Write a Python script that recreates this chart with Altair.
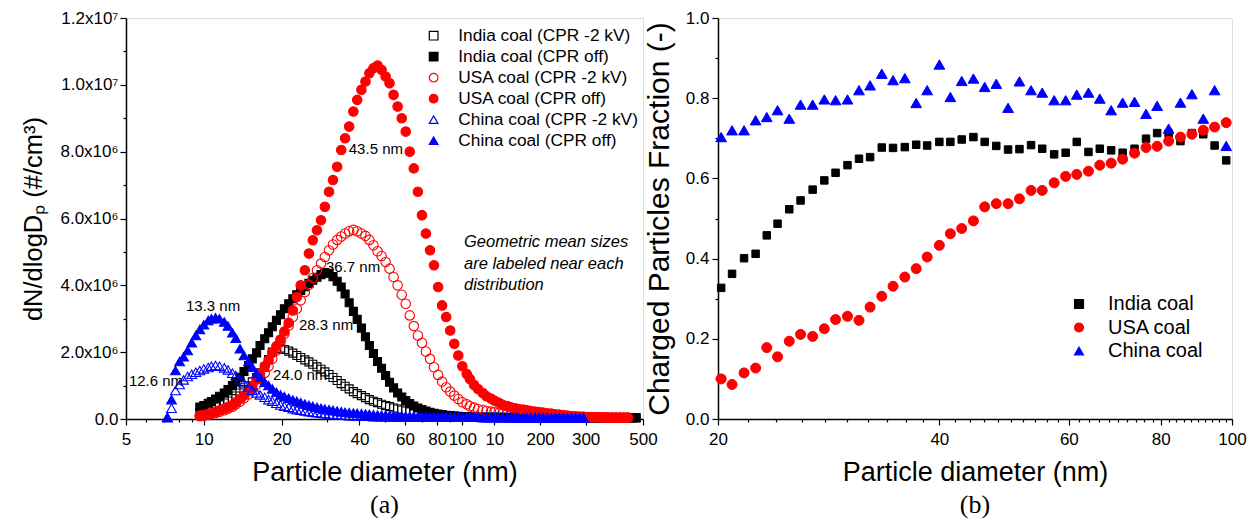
import json
import altair as alt
import pandas as pd

FONT = "Liberation Sans"

# ---------------- panel (a): size distributions ----------------
DP_IU = [9.65, 10.0, 10.4, 10.7, 11.1, 11.5, 12.0, 12.4, 12.9, 13.3,
         13.8, 14.3, 14.9, 15.4, 16.0, 16.5, 17.2, 17.8, 18.4, 19.1,
         19.8, 20.5, 21.3, 22.1, 22.9, 23.7, 24.6, 25.5, 26.4, 27.4,
         28.4, 29.4, 30.5, 31.6, 32.8, 34.0, 35.2, 36.5, 37.9, 39.2,
         40.7, 42.2, 43.7, 45.3, 47.0, 48.7, 50.5, 52.3, 54.2, 56.2,
         58.3, 60.4, 62.6, 64.9, 67.3, 69.8, 72.3, 75.0, 77.7, 80.6,
         83.5, 86.6, 89.8, 93.1, 96.5, 100, 104, 107, 111, 115,
         120, 124, 129, 133, 138, 143, 149, 154, 160, 165,
         172, 178, 184, 191, 198, 205, 213, 221, 229, 237,
         246, 255, 264, 274, 284, 294, 305, 316, 328, 340,
         352, 365, 379, 392, 407, 422, 437, 453, 470]

# values in units of 1e6 #/cm3
INDIA_2KV = [0.20, 0.24, 0.28, 0.32, 0.37, 0.42, 0.48, 0.54, 0.61, 0.69,
             0.78, 0.88, 0.99, 1.11, 1.24, 1.38, 1.55, 1.78, 2.00, 2.10,
             2.12, 2.08, 2.03, 1.97, 1.90, 1.84, 1.77, 1.71, 1.64, 1.56,
             1.49, 1.41, 1.33, 1.24, 1.15, 1.06, 0.98, 0.90, 0.82, 0.76,
             0.70, 0.64, 0.58, 0.53, 0.49, 0.44, 0.40, 0.37, 0.33, 0.30,
             0.27, 0.24, 0.22, 0.20, 0.18, 0.16, 0.15, 0.13, 0.12, 0.11,
             0.10, 0.09, 0.08, 0.08, 0.07, 0.06, 0.06, 0.05, 0.05, 0.05,
             0.05, 0.05, 0.05, 0.05, 0.05, 0.04, 0.04, 0.04, 0.04, 0.04,
             0.04, 0.04, 0.04, 0.04, 0.04, 0.04, 0.04, 0.04, 0.04, 0.04,
             0.04, 0.04, 0.04, 0.04, 0.04, 0.03, 0.03, 0.03, 0.03, 0.03,
             0.03, 0.03, 0.03, 0.03, 0.03, 0.03, 0.03, 0.03, 0.03]
INDIA_OFF = [0.36, 0.40, 0.47, 0.52, 0.60, 0.68, 0.78, 0.88, 1.00, 1.10,
             1.25, 1.42, 1.60, 1.80, 1.98, 2.20, 2.40, 2.58, 2.76, 2.95,
             3.12, 3.30, 3.45, 3.60, 3.72, 3.85, 3.96, 4.06, 4.15, 4.24,
             4.32, 4.38, 4.36, 4.26, 4.12, 3.95, 3.74, 3.48, 3.22, 2.98,
             2.72, 2.46, 2.20, 1.96, 1.72, 1.52, 1.30, 1.10, 0.93, 0.78,
             0.66, 0.55, 0.46, 0.39, 0.33, 0.28, 0.24, 0.20, 0.17, 0.15,
             0.13, 0.11, 0.10, 0.09, 0.08, 0.07, 0.07, 0.06, 0.06, 0.06,
             0.05, 0.05, 0.05, 0.05, 0.05, 0.05, 0.05, 0.04, 0.04, 0.04,
             0.04, 0.04, 0.04, 0.04, 0.04, 0.04, 0.04, 0.04, 0.04, 0.04,
             0.04, 0.04, 0.04, 0.04, 0.04, 0.04, 0.04, 0.04, 0.04, 0.04,
             0.04, 0.04, 0.04, 0.04, 0.04, 0.04, 0.04, 0.04, 0.04]
USA_2KV = [0.08, 0.10, 0.12, 0.15, 0.18, 0.22, 0.26, 0.31, 0.37, 0.44,
           0.52, 0.62, 0.74, 0.88, 1.03, 1.20, 1.38, 1.58, 1.80, 2.05,
           2.30, 2.55, 2.80, 3.05, 3.30, 3.55, 3.80, 4.02, 4.22, 4.45,
           4.65, 4.85, 5.05, 5.22, 5.36, 5.46, 5.55, 5.62, 5.66, 5.62,
           5.55, 5.48, 5.36, 5.20, 5.02, 4.88, 4.70, 4.50, 4.25, 4.00,
           3.72, 3.45, 3.10, 2.78, 2.50, 2.28, 2.02, 1.80, 1.55, 1.32,
           1.12, 0.95, 0.82, 0.70, 0.60, 0.50, 0.44, 0.38, 0.34, 0.30,
           0.27, 0.24, 0.22, 0.20, 0.18, 0.16, 0.15, 0.13, 0.12, 0.11,
           0.10, 0.09, 0.09, 0.08, 0.08, 0.07, 0.07, 0.06, 0.06, 0.06,
           0.05, 0.05, 0.05, 0.05, 0.05, 0.05, 0.05, 0.05, 0.05, 0.05,
           0.04, 0.04, 0.04, 0.04, 0.04, 0.04, 0.04]
USA_OFF = [0.10, 0.12, 0.15, 0.18, 0.21, 0.26, 0.31, 0.36, 0.42, 0.50,
           0.60, 0.70, 0.83, 0.98, 1.18, 1.36, 1.58, 1.76, 1.98, 2.18,
           2.38, 2.62, 2.88, 3.25, 3.65, 4.00, 4.45, 4.95, 5.35, 5.65,
           5.95, 6.35, 6.80, 7.15, 7.55, 8.05, 8.40, 8.75, 9.20, 9.55,
           9.85, 10.10, 10.35, 10.50, 10.58, 10.45, 10.25, 10.05, 9.70, 9.35,
           9.00, 8.60, 8.00, 7.50, 6.80, 6.10, 5.55, 5.05, 4.60, 3.95,
           3.40, 3.05, 2.65, 2.25, 1.90, 1.58, 1.35, 1.20, 1.02, 0.90,
           0.78, 0.68, 0.61, 0.55, 0.49, 0.43, 0.39, 0.35, 0.32, 0.30,
           0.28, 0.26, 0.24, 0.22, 0.21, 0.19, 0.17, 0.16, 0.14, 0.13,
           0.12, 0.10, 0.09, 0.08, 0.07, 0.07, 0.06, 0.06, 0.05, 0.05,
           0.05, 0.05, 0.04, 0.04, 0.04, 0.04, 0.04]

DP_CN = [7.23, 7.50, 7.77, 8.06, 8.35, 8.66, 8.98, 9.31,
         9.65, 10.0, 10.4, 10.7, 11.1, 11.5, 12.0, 12.4, 12.9, 13.3,
         13.8, 14.3, 14.9, 15.4, 16.0, 16.5, 17.2, 17.8, 18.4, 19.1,
         19.8, 20.5, 21.3, 22.1, 22.9, 23.7, 24.6, 25.5, 26.4, 27.4,
         28.4, 29.4, 30.5, 31.6, 32.8, 34.0, 35.2, 36.5, 37.9, 39.2,
         40.7, 42.2, 43.7, 45.3, 47.0, 48.7, 50.5, 52.3, 54.2, 56.2,
         58.3, 60.4, 62.6, 64.9, 67.3, 69.8, 72.3, 75.0, 77.7, 80.6,
         83.5, 86.6, 89.8, 93.1, 96.5, 100, 104, 107, 111, 115,
         120, 124, 129, 133, 138, 143, 149, 154, 160, 165,
         172, 178, 184, 191, 198, 205, 213, 221, 229, 237,
         246, 255, 264, 274, 284, 294]
CHINA_2KV = [0.04, 0.32, 0.85, 1.03, 1.17, 1.27, 1.34, 1.40,
             1.45, 1.50, 1.54, 1.58, 1.60, 1.58, 1.53, 1.47, 1.37, 1.30,
             1.18, 1.08, 0.96, 0.86, 0.78, 0.72, 0.65, 0.58, 0.53, 0.47,
             0.42, 0.38, 0.35, 0.31, 0.28, 0.26, 0.24, 0.22, 0.20, 0.19,
             0.17, 0.16, 0.15, 0.14, 0.13, 0.12, 0.11, 0.10, 0.10, 0.09,
             0.09, 0.08, 0.08, 0.07, 0.07, 0.07, 0.06, 0.06, 0.06, 0.06,
             0.05, 0.05, 0.05, 0.05, 0.05, 0.05, 0.05, 0.05, 0.05, 0.05,
             0.05, 0.05, 0.05, 0.05, 0.05, 0.05, 0.05, 0.05, 0.05, 0.05,
             0.04, 0.04, 0.04, 0.04, 0.04, 0.04, 0.04, 0.04, 0.04, 0.04,
             0.04, 0.04, 0.04, 0.04, 0.04, 0.04, 0.03, 0.03, 0.03, 0.03,
             0.03, 0.03, 0.03, 0.03, 0.03, 0.03]
CHINA_OFF = [0.05, 0.58, 1.45, 1.72, 1.86, 2.05, 2.28, 2.50,
             2.68, 2.82, 2.95, 3.00, 3.03, 3.00, 2.90, 2.78, 2.58, 2.42,
             2.10, 1.90, 1.72, 1.55, 1.36, 1.25, 1.10, 1.00, 0.90, 0.80,
             0.72, 0.67, 0.62, 0.57, 0.53, 0.49, 0.45, 0.41, 0.38, 0.35,
             0.32, 0.30, 0.28, 0.26, 0.24, 0.22, 0.20, 0.19, 0.18, 0.17,
             0.16, 0.15, 0.14, 0.13, 0.12, 0.11, 0.11, 0.10, 0.10, 0.09,
             0.09, 0.08, 0.08, 0.08, 0.07, 0.07, 0.07, 0.06, 0.06, 0.06,
             0.06, 0.06, 0.05, 0.05, 0.05, 0.05, 0.05, 0.05, 0.05, 0.05,
             0.05, 0.05, 0.05, 0.05, 0.05, 0.05, 0.05, 0.05, 0.05, 0.05,
             0.04, 0.04, 0.04, 0.04, 0.04, 0.04, 0.04, 0.04, 0.04, 0.04,
             0.04, 0.04, 0.04, 0.04, 0.04, 0.04]
N_UNIT = 1e6

SERIES_A = ["India coal (CPR -2 kV)", "India coal (CPR off)",
            "USA coal (CPR -2 kV)", "USA coal (CPR off)",
            "China coal (CPR -2 kV)", "China coal (CPR off)"]

GMD_TEXT = ["43.5 nm", "36.7 nm", "28.3 nm", "24.0 nm", "13.3 nm", "12.6 nm"]
GMD_X = [46.3, 37.8, 29.7, 23.6, 10.86, 6.53]
GMD_Y = [8.08, 4.55, 2.81, 1.32, 3.38, 1.14]

NOTE_TEXT = ["Geometric mean sizes", "are labeled near each", "distribution"]
NOTE_X = [101.5, 101.5, 101.5]
NOTE_Y = [5.30, 4.64, 4.01]

X_TICKS_A = [5, 10, 20, 40, 60, 80, 100, 133, 200, 300, 500]
X_LABELS_A = ["5", "10", "20", "40", "60", "80", "100", "10", "200", "300", "500"]
X_MINOR_A = [6, 7, 8, 9, 30, 50, 70, 90, 400]
Y_TICKS_A = [0, 2e6, 4e6, 6e6, 8e6, 1e7, 1.2e7]
Y_LABELS_A = ["0.0", "2.0x10⁶", "4.0x10⁶", "6.0x10⁶", "8.0x10⁶", "1.0x10⁷", "1.2x10⁷"]
Y_MINOR_A = [1e6, 3e6, 5e6, 7e6, 9e6, 1.1e7]

# ---------------- panel (b): charged fraction ----------------
DP_B = [20.2, 20.9, 21.7, 22.5, 23.3, 24.1, 25.0, 25.9, 26.9, 27.9,
        28.9, 30.0, 31.1, 32.2, 33.4, 34.6, 35.9, 37.2, 38.5, 40.0,
        41.4, 42.9, 44.5, 46.1, 47.8, 49.6, 51.4, 53.3, 55.2, 57.3,
        59.4, 61.5, 63.8, 66.1, 68.5, 71.0, 73.7, 76.4, 79.1, 82.0,
        85.1, 88.2, 91.4, 94.7, 98.2]
INDIA_FRAC = [0.327, 0.362, 0.401, 0.412, 0.458, 0.487, 0.523, 0.545, 0.572, 0.595,
              0.614, 0.633, 0.649, 0.653, 0.677, 0.676, 0.678, 0.684, 0.682, 0.691,
              0.691, 0.697, 0.703, 0.691, 0.681, 0.672, 0.673, 0.683, 0.674, 0.660,
              0.664, 0.691, 0.666, 0.674, 0.670, 0.664, 0.674, 0.699, 0.713, 0.712,
              0.693, 0.713, 0.710, 0.682, 0.645]
USA_FRAC = [0.100, 0.086, 0.115, 0.127, 0.178, 0.155, 0.194, 0.211, 0.206, 0.225,
            0.248, 0.256, 0.246, 0.279, 0.306, 0.331, 0.354, 0.375, 0.404, 0.433,
            0.462, 0.475, 0.494, 0.529, 0.537, 0.537, 0.549, 0.570, 0.570, 0.589,
            0.605, 0.610, 0.618, 0.633, 0.638, 0.648, 0.663, 0.677, 0.680, 0.693,
            0.703, 0.710, 0.720, 0.728, 0.739]
CHINA_FRAC = [0.703, 0.720, 0.720, 0.745, 0.753, 0.770, 0.749, 0.784, 0.784, 0.797,
              0.795, 0.797, 0.820, 0.832, 0.861, 0.845, 0.850, 0.788, 0.820, 0.884,
              0.803, 0.843, 0.849, 0.828, 0.836, 0.776, 0.842, 0.820, 0.814, 0.795,
              0.795, 0.809, 0.814, 0.799, 0.770, 0.789, 0.791, 0.761, 0.781, 0.724,
              0.789, 0.810, 0.749, 0.820, 0.681]
SERIES_B = ["India coal", "USA coal", "China coal"]

X_TICKS_B = [20, 40, 60, 80, 100]
X_LABELS_B = ["20", "40", "60", "80", "100"]
X_MINOR_B = [22, 24, 26, 28, 30, 32, 34, 36, 38, 42, 44, 46, 48, 50, 52, 54, 56, 58,
             62, 64, 66, 68, 70, 72, 74, 76, 78, 82, 84, 86, 88, 90, 92, 94, 96, 98]
Y_TICKS_B = [0.0, 0.2, 0.4, 0.6, 0.8, 1.0]
Y_LABELS_B = ["0.0", "0.2", "0.4", "0.6", "0.8", "1.0"]
Y_MINOR_B = [0.1, 0.3, 0.5, 0.7, 0.9]

# ---------------- styles ----------------
STYLE_A = {
    "India coal (CPR -2 kV)": ("square", "#000000", "transparent", 64),
    "India coal (CPR off)": ("square", "#000000", "#000000", 64),
    "USA coal (CPR -2 kV)": ("circle", "#ff0000", "transparent", 90),
    "USA coal (CPR off)": ("circle", "#ff0000", "#ff0000", 90),
    "China coal (CPR -2 kV)": ("triangle-up", "#0000ff", "transparent", 95),
    "China coal (CPR off)": ("triangle-up", "#0000ff", "#0000ff", 95),
}
STYLE_B = {
    "India coal": ("square", "#000000", "#000000", 56),
    "USA coal": ("circle", "#ff0000", "#ff0000", 100),
    "China coal": ("triangle-up", "#0000ff", "#0000ff", 115),
}


def label_expr(values, labels):
    expr = "''"
    for v, lab in reversed(list(zip(values, labels))):
        tol = 1e-6 * max(1.0, abs(v))
        expr = f"abs(datum.value - ({v!r})) < {tol!r} ? '{lab}' : ({expr})"
    return expr


def tick_size(minors, major=6, minor=3):
    return {"condition": {"test": f"indexof({json.dumps(minors)}, datum.value) >= 0",
                          "value": minor},
            "value": major}


def axis(title, ticks, labels, minors, title_size, **kw):
    return alt.Axis(title=title, values=list(ticks) + list(minors),
                    labelExpr=label_expr(ticks, labels), tickSize=tick_size(minors),
                    labelOverlap=False, labelFlush=False, grid=False,
                    labelFont=FONT, labelFontSize=17, labelColor="black",
                    titleFont=FONT, titleFontSize=title_size, titleFontWeight="normal",
                    titleColor="black", domainColor="black", domainWidth=1.5,
                    tickColor="black", tickWidth=1.2, **kw)


# ---------------- tables ----------------
rows_a = []
for name, dps, vals in [(SERIES_A[0], DP_IU, INDIA_2KV), (SERIES_A[1], DP_IU, INDIA_OFF),
                        (SERIES_A[2], DP_IU, USA_2KV), (SERIES_A[3], DP_IU, USA_OFF),
                        (SERIES_A[4], DP_CN, CHINA_2KV), (SERIES_A[5], DP_CN, CHINA_OFF)]:
    for d, v in zip(dps, vals):
        rows_a.append({"series": name, "dp": d, "n": v * N_UNIT, "sz": STYLE_A[name][3]})
df_a = pd.DataFrame(rows_a)

ann_df = pd.DataFrame({"dp": GMD_X, "n": [v * N_UNIT for v in GMD_Y], "t": GMD_TEXT})
note_df = pd.DataFrame({"dp": NOTE_X, "n": [v * N_UNIT for v in NOTE_Y], "t": NOTE_TEXT})

rows_b = []
for name, vals in zip(SERIES_B, [INDIA_FRAC, USA_FRAC, CHINA_FRAC]):
    for d, v in zip(DP_B, vals):
        rows_b.append({"coal": name, "dp": d, "f": v, "sz": STYLE_B[name][3]})
df_b = pd.DataFrame(rows_b)

# ---------------- panel (a) ----------------
xa = alt.X("dp:Q", scale=alt.Scale(type="log", domain=[5, 500], nice=False),
           axis=axis("Particle diameter (nm)", X_TICKS_A, X_LABELS_A, X_MINOR_A, 27,
                     labelPadding=6, titlePadding=12))
ya = alt.Y("n:Q", scale=alt.Scale(domain=[0, 1.2e7], nice=False),
           axis=axis("dN/dlogDₚ (#/cm³)", Y_TICKS_A, Y_LABELS_A, Y_MINOR_A, 25.5,
                     labelPadding=2, titlePadding=13))


def legend(x, y, fs, rp, off, ss):
    return alt.Legend(title=None, orient="none", legendX=x, legendY=y, padding=0,
                      labelFont=FONT, labelFontSize=fs, labelColor="black",
                      rowPadding=rp, labelOffset=off, symbolSize=ss,
                      symbolStrokeWidth=1.2, labelLimit=500)


leg_a = legend(299, 9, 17.3, 3.0, 16, 75)
pts_a = alt.Chart(df_a).mark_point(opacity=1, strokeWidth=1.1).encode(
    x=xa, y=ya,
    shape=alt.Shape("series:N", scale=alt.Scale(domain=SERIES_A, range=[STYLE_A[s][0] for s in SERIES_A]), legend=leg_a),
    stroke=alt.Stroke("series:N", scale=alt.Scale(domain=SERIES_A, range=[STYLE_A[s][1] for s in SERIES_A]), legend=leg_a),
    fill=alt.Fill("series:N", scale=alt.Scale(domain=SERIES_A, range=[STYLE_A[s][2] for s in SERIES_A]), legend=leg_a),
    size=alt.Size("sz:Q", scale=None),
)
ann = alt.Chart(ann_df).mark_text(font=FONT, fontSize=15, color="black").encode(x=xa, y=ya, text="t:N")
note = alt.Chart(note_df).mark_text(font=FONT, fontSize=16.5, fontStyle="italic", align="left",
                                    color="black").encode(x=xa, y=ya, text="t:N")

left = alt.layer(pts_a, ann, note).properties(
    width=517, height=401,
    title=alt.TitleParams("(a)", orient="bottom", anchor="middle", font="Liberation Serif",
                          fontSize=26, fontWeight="normal", color="black", offset=7))

# ---------------- panel (b) ----------------
xb = alt.X("dp:Q", scale=alt.Scale(type="log", domain=[20, 100], nice=False),
           axis=axis("Particle diameter (nm)", X_TICKS_B, X_LABELS_B, X_MINOR_B, 27,
                     labelPadding=6, titlePadding=12))
yb = alt.Y("f:Q", scale=alt.Scale(domain=[0, 1.0], nice=False),
           axis=axis("Charged Particles Fraction (-)", Y_TICKS_B, Y_LABELS_B, Y_MINOR_B, 30,
                     labelPadding=3, titlePadding=11))
leg_b = legend(351, 276, 20, 3.5, 19, 80)
pts_b = alt.Chart(df_b).mark_point(opacity=1, strokeWidth=1).encode(
    x=xb, y=yb,
    shape=alt.Shape("coal:N", scale=alt.Scale(domain=SERIES_B, range=[STYLE_B[s][0] for s in SERIES_B]), legend=leg_b),
    stroke=alt.Stroke("coal:N", scale=alt.Scale(domain=SERIES_B, range=[STYLE_B[s][1] for s in SERIES_B]), legend=leg_b),
    fill=alt.Fill("coal:N", scale=alt.Scale(domain=SERIES_B, range=[STYLE_B[s][2] for s in SERIES_B]), legend=leg_b),
    size=alt.Size("sz:Q", scale=None),
)
right = alt.layer(pts_b).properties(
    width=514, height=401,
    title=alt.TitleParams("(b)", orient="bottom", anchor="middle", font="Liberation Serif",
                          fontSize=26, fontWeight="normal", color="black", offset=7))

chart = alt.hconcat(left, right, spacing=75, bounds="flush").resolve_scale(
    shape="independent", stroke="independent", fill="independent",
    x="independent", y="independent"
).resolve_legend(
    shape="independent", stroke="independent", fill="independent"
).properties(
    padding={"left": 13, "top": 0, "right": 0, "bottom": 0}
).configure_view(stroke="black", strokeWidth=1.5).configure_legend(
    labelLimit=500
).configure(font=FONT, background="white")

chart.save("out.html", embed_options={"renderer": "svg", "actions": False})
